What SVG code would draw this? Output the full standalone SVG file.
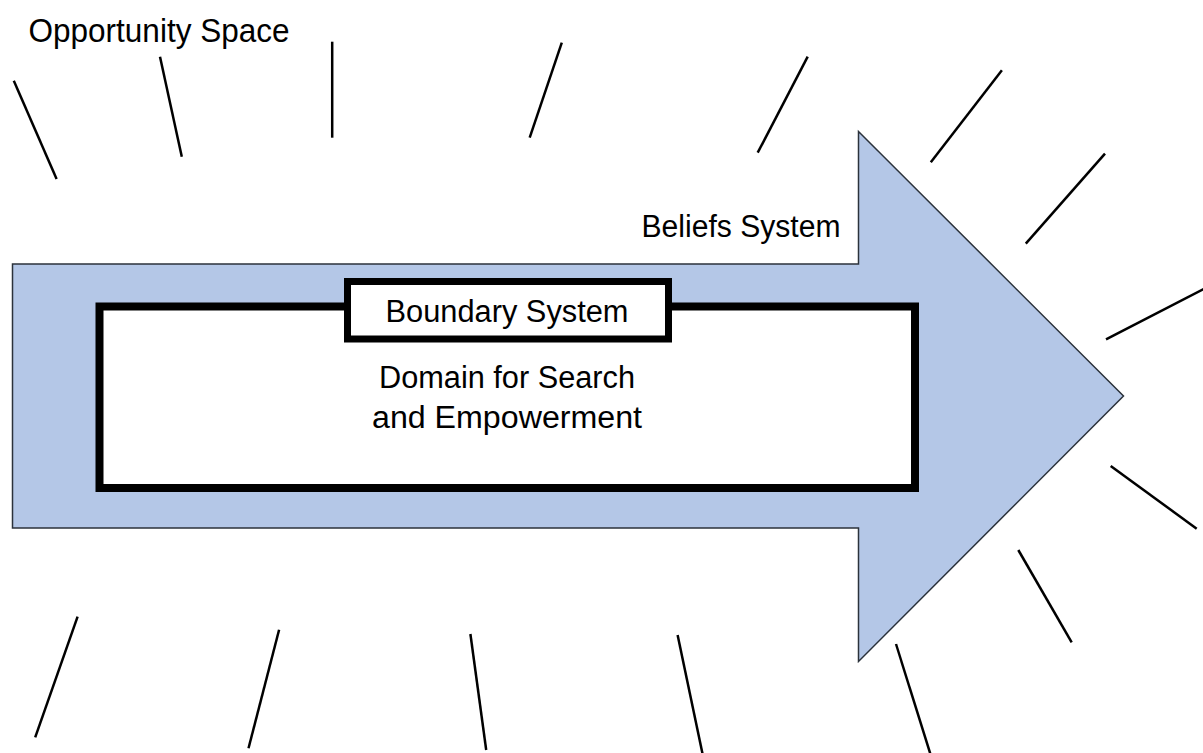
<svg xmlns="http://www.w3.org/2000/svg" width="1203" height="753" viewBox="0 0 1203 753">
<style>
.lbl{font-family:"Liberation Sans",Arial,sans-serif;font-size:31px;fill:#000}
.ray{stroke:#000;stroke-width:2.5;fill:none;stroke-linecap:butt}
</style>
<rect width="1203" height="753" fill="#fff"/>
<g id="arrow">
<polygon points="12.5,264 858.5,264 858.5,131.5 1123.5,396 858.5,661.5 858.5,528 12.5,528" fill="#B4C7E7" stroke="#2B323B" stroke-width="1.5" stroke-linejoin="miter"/>
<text class="lbl" x="641.5" y="237" textLength="199" lengthAdjust="spacingAndGlyphs">Beliefs System</text>
</g>
<g id="domain">
<rect x="99.5" y="306.5" width="815.5" height="181.5" fill="#fff" stroke="#000" stroke-width="8"/>
<text class="lbl" x="507" y="387.5" text-anchor="middle" textLength="256" lengthAdjust="spacingAndGlyphs">Domain for Search</text>
<text class="lbl" x="507" y="427.5" text-anchor="middle" textLength="270" lengthAdjust="spacingAndGlyphs">and Empowerment</text>
</g>
<g id="boundary">
<rect x="347.5" y="281.5" width="321" height="57.5" fill="#fff" stroke="#000" stroke-width="7"/>
<text class="lbl" x="507" y="322" text-anchor="middle" textLength="243" lengthAdjust="spacingAndGlyphs">Boundary System</text>
</g>
<g id="opportunity">
<text class="lbl" x="28.5" y="41.5" style="font-size:33px" textLength="261" lengthAdjust="spacingAndGlyphs">Opportunity Space</text>
</g>
<g id="rays">
<line class="ray" x1="13.8" y1="80.7" x2="56.6" y2="179"/>
<line class="ray" x1="160" y1="56.7" x2="181.8" y2="156.7"/>
<line class="ray" x1="332.2" y1="41.7" x2="332.2" y2="137.7"/>
<line class="ray" x1="561.8" y1="42.7" x2="529.7" y2="137.7"/>
<line class="ray" x1="807.7" y1="56.7" x2="757.7" y2="152.7"/>
<line class="ray" x1="1001.9" y1="70.3" x2="930.8" y2="162.3"/>
<line class="ray" x1="1105" y1="153.7" x2="1025.8" y2="243.7"/>
<line class="ray" x1="1206" y1="287.8" x2="1106" y2="339.3"/>
<line class="ray" x1="1110.7" y1="466" x2="1196.7" y2="528.7"/>
<line class="ray" x1="1018.3" y1="550" x2="1071.7" y2="642.3"/>
<line class="ray" x1="896" y1="644" x2="931" y2="756"/>
<line class="ray" x1="77.6" y1="616.7" x2="35.2" y2="737.3"/>
<line class="ray" x1="279.1" y1="629.7" x2="248.5" y2="748.3"/>
<line class="ray" x1="470.4" y1="634" x2="486.2" y2="750"/>
<line class="ray" x1="677.6" y1="635" x2="703" y2="756"/>
</g>
</svg>
